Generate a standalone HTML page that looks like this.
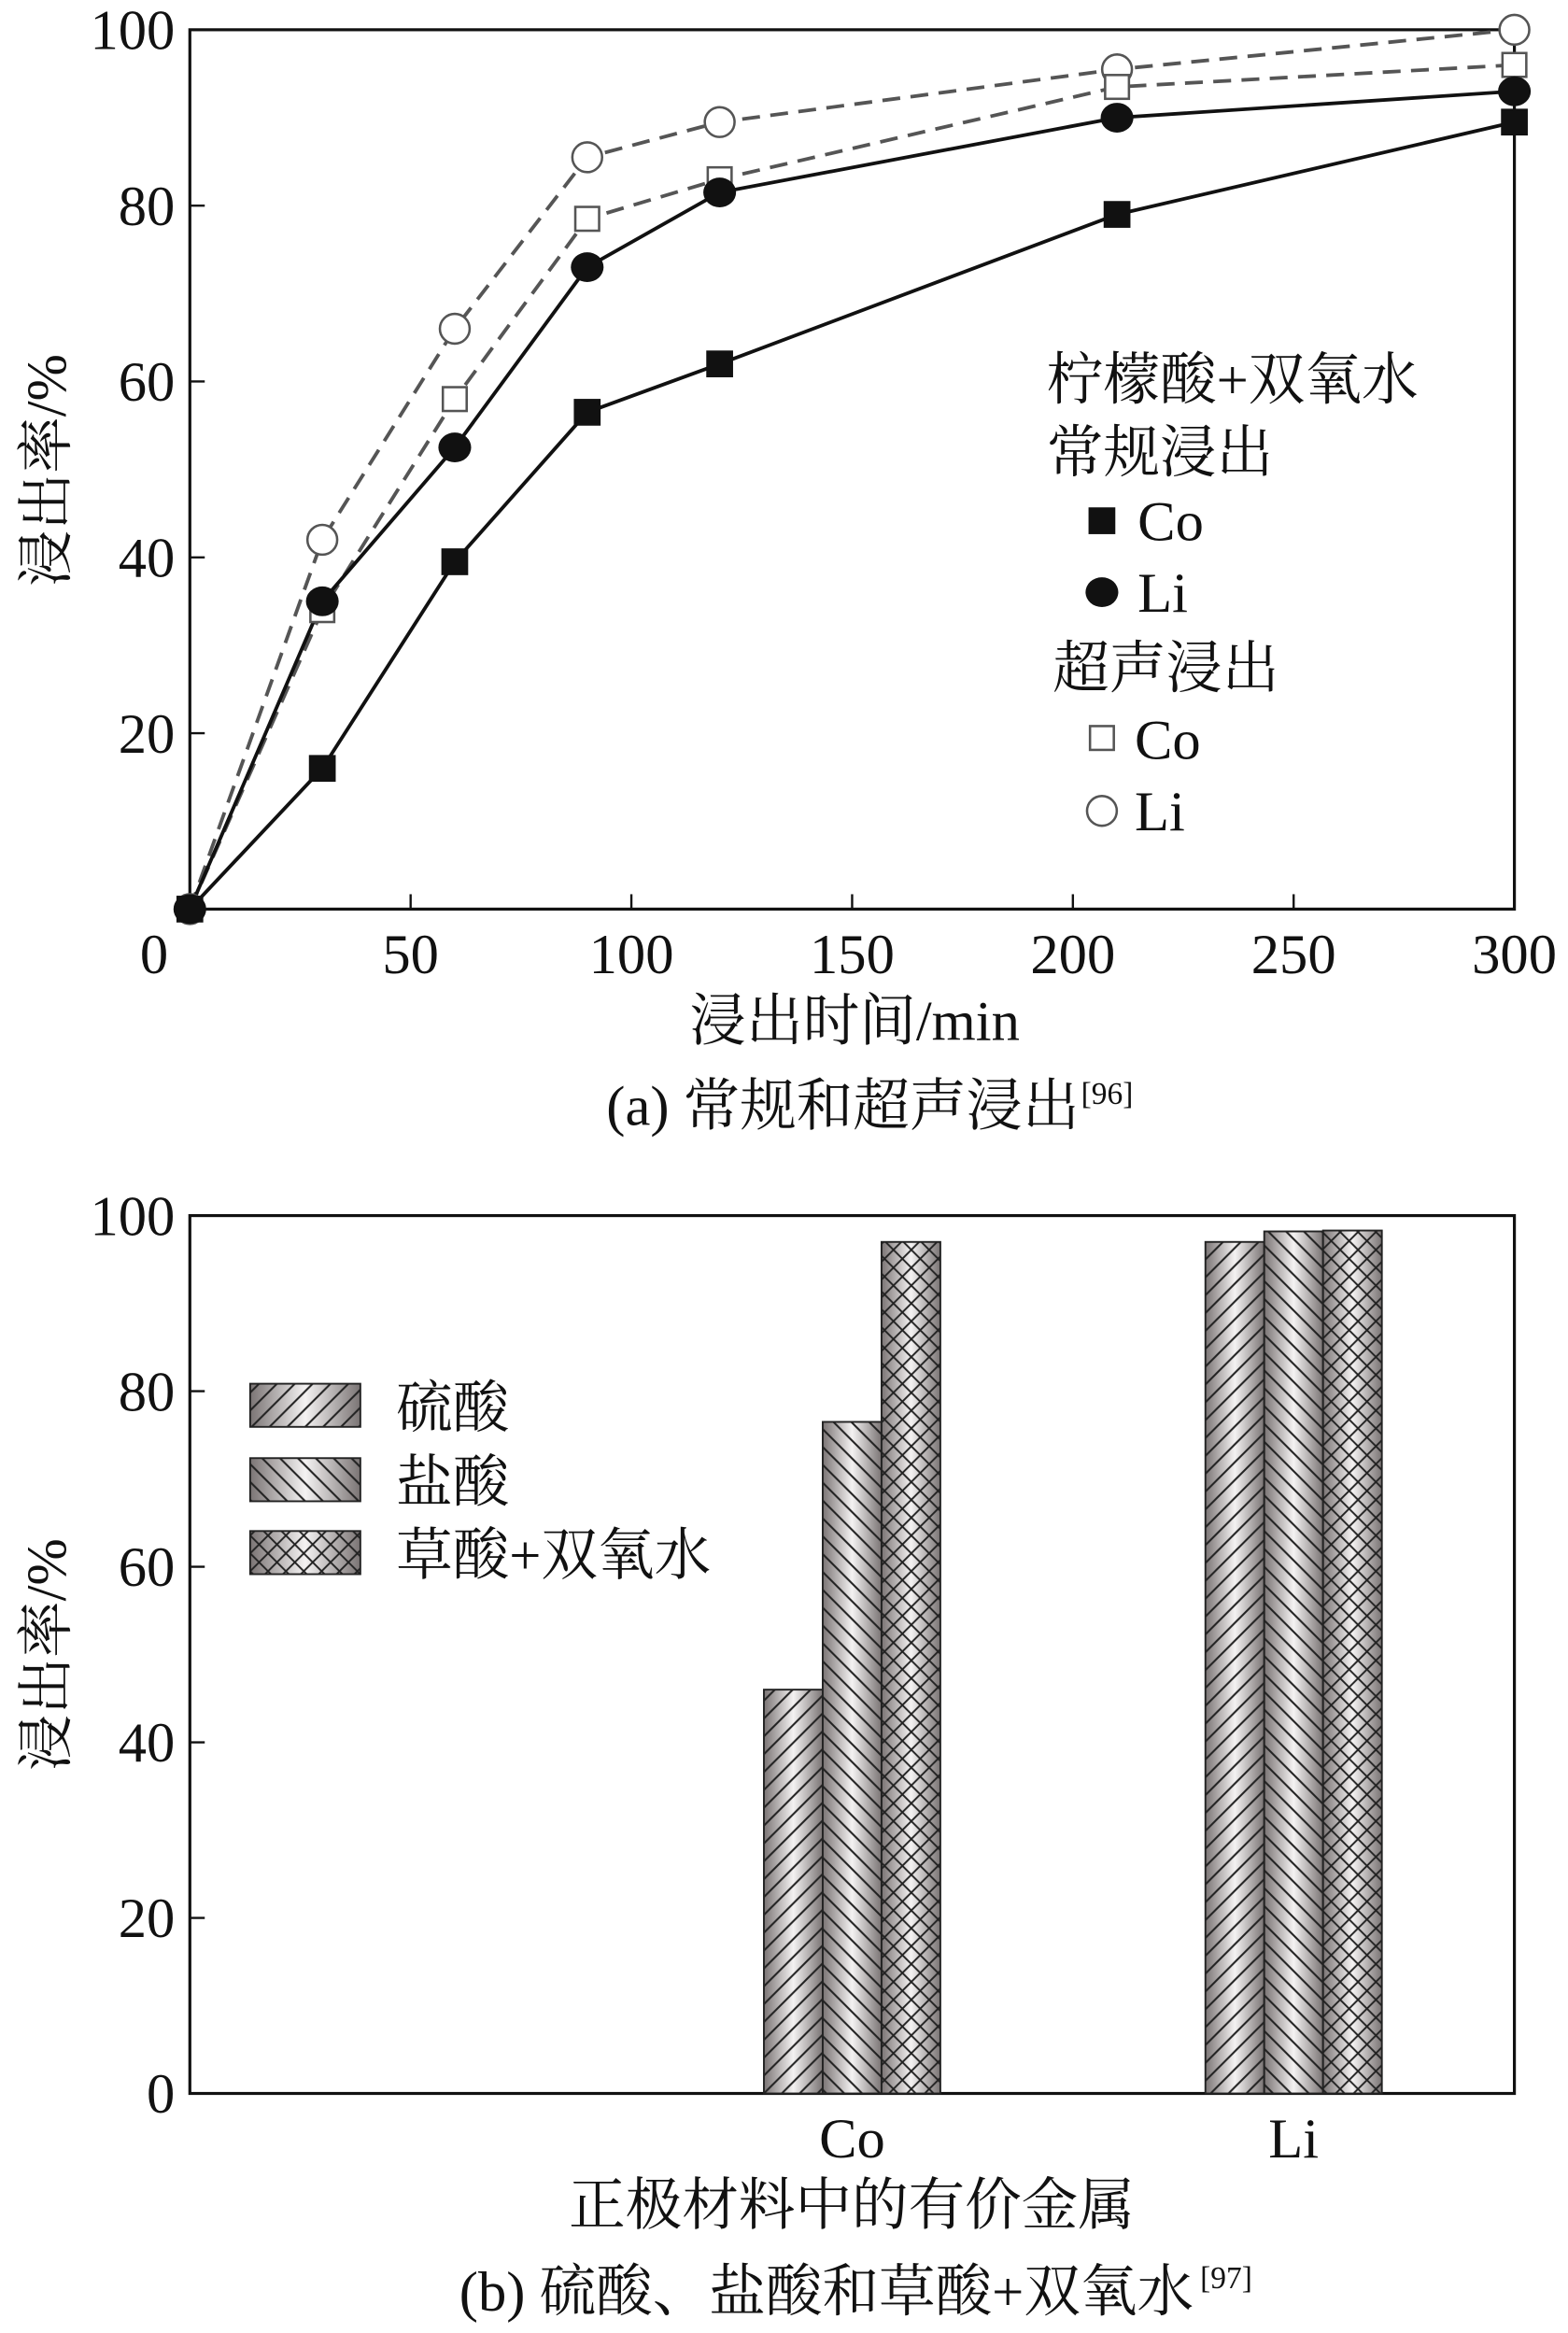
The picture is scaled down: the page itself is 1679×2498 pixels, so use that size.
<!DOCTYPE html>
<html><head><meta charset="utf-8"><style>
html,body{margin:0;padding:0;background:#fff}
svg{display:block}
text{font-family:"Liberation Serif","Noto Serif CJK SC","Noto Sans CJK SC",serif;fill:#111}
</style></head><body>
<svg id="fig" width="1679" height="2498" viewBox="0 0 1053 1568" preserveAspectRatio="none" xmlns="http://www.w3.org/2000/svg">
<defs>
<linearGradient id="cyl" x1="0" x2="1" y1="0" y2="0">
<stop offset="0" stop-color="#7a7474"/><stop offset="0.5" stop-color="#f4f2f2"/><stop offset="1" stop-color="#7a7474"/>
</linearGradient>
<pattern id="hF" width="12" height="12" patternUnits="userSpaceOnUse"><path d="M-3,15 L15,-3 M-3,3 L3,-3 M9,15 L15,9" stroke="#222" stroke-width="1.3"/></pattern>
<pattern id="hB" width="12" height="12" patternUnits="userSpaceOnUse"><path d="M-3,-3 L15,15 M-3,9 L3,15 M9,-3 L15,3" stroke="#222" stroke-width="1.3"/></pattern>
<pattern id="hX" width="12" height="12" patternUnits="userSpaceOnUse"><path d="M-3,15 L15,-3 M-3,3 L3,-3 M9,15 L15,9 M-3,-3 L15,15 M-3,9 L3,15 M9,-3 L15,3" stroke="#222" stroke-width="1.2"/></pattern>
</defs>
<g id="chartA"></g>
<g id="chartB"></g>
</svg>
<script>
// ---- Chart (a) data ----
const times = [0, 30, 60, 90, 120, 210, 300];
const coConv = [0, 16, 39.5, 56.5, 62, 79, 89.5];
const liConv = [0, 35, 52.5, 73, 81.5, 90, 93];
const coUltra = [0, 34, 58, 78.5, 83, 93.5, 96];
const liUltra = [0, 42, 66, 85.5, 89.5, 95.5, 100];
const xTicksA = [0, 50, 100, 150, 200, 250, 300];
const yTicksA = [20, 40, 60, 80, 100];
// ---- Chart (b) data ----
const metals = ['Co', 'Li'];
const sulfuric = [46, 97];
const hydrochloric = [76.5, 98.2];
const oxalic = [97, 98.3];
const yTicksB = [0, 20, 40, 60, 80, 100];

const NS = 'http://www.w3.org/2000/svg';
const FS = 38;
function mk(parent, tag, attrs, txt) {
  const e = document.createElementNS(NS, tag);
  for (const k in attrs) e.setAttribute(k, attrs[k]);
  if (txt !== undefined) e.textContent = txt;
  parent.appendChild(e);
  return e;
}
// ===== Chart A =====
const A = document.getElementById('chartA');
const aL = 127.5, aR = 1017, aT = 20, aB = 611;
const ax = t => aL + (t / 300) * (aR - aL);
const ay = v => aB - (v / 100) * (aB - aT);
let f = mk(A, 'rect', {x: aL, y: aT, width: aR - aL, height: aB - aT, fill: 'none', stroke: '#111', 'stroke-width': 2});


xTicksA.forEach(t => {
  if (t > 0 && t < 300) mk(A, 'line', {x1: ax(t), x2: ax(t), y1: aB, y2: aB - 10, stroke: '#111', 'stroke-width': 1.5});
  const tx = mk(A, 'text', {x: t === 0 ? ax(t) - 24 : ax(t), y: aB + 43, 'font-size': FS, 'text-anchor': 'middle'}, String(t));
  
  
});
yTicksA.forEach(v => {
  if (v < 100) mk(A, 'line', {x1: aL, x2: aL + 10, y1: ay(v), y2: ay(v), stroke: '#111', 'stroke-width': 1.5});
  const tx = mk(A, 'text', {x: aL - 10, y: ay(v) + 13, 'font-size': FS, 'text-anchor': 'end'}, String(v));
  
  
});
let t1 = mk(A, 'text', {x: 574, y: 699, 'font-size': FS, 'text-anchor': 'middle'}, '浸出时间/min');


let t2 = mk(A, 'text', {x: 0, y: 0, 'font-size': FS, 'text-anchor': 'middle', transform: 'translate(44,316) rotate(-90)'}, '浸出率/%');


let c1 = mk(A, 'text', {x: 566, y: 756, 'font-size': FS, 'text-anchor': 'middle'}, '(a) 常规和超声浸出');


mk(A, 'text', {x: 726, y: 742, 'font-size': 21}, '[96]');

function series(vals, dashed, name) {
  const pts = times.map((t, i) => ax(t) + ',' + ay(vals[i])).join(' ');
  const p = mk(A, 'polyline', {points: pts, fill: 'none', stroke: dashed ? '#555' : '#111', 'stroke-width': 2.4, 'stroke-dasharray': dashed ? '12,7' : 'none'});
  
  
}
function marks(vals, kind, name) {
  times.forEach((t, i) => {
    const x = ax(t), y = ay(vals[i]);
    let m;
    if (kind === 'fs') m = mk(A, 'rect', {x: x - 9, y: y - 9, width: 18, height: 18, fill: '#111'});
    if (kind === 'fc') m = mk(A, 'ellipse', {cx: x, cy: y, rx: 11, ry: 10, fill: '#111'});
    if (kind === 'os') m = mk(A, 'rect', {x: x - 8, y: y - 8, width: 16, height: 16, fill: '#fff', stroke: '#555', 'stroke-width': 1.6});
    if (kind === 'oc') m = mk(A, 'circle', {cx: x, cy: y, r: 10, fill: '#fff', stroke: '#555', 'stroke-width': 1.6});
    
    
  });
}
series(liUltra, true, 'li-ultrasonic');
series(coUltra, true, 'co-ultrasonic');
series(liConv, false, 'li-conventional');
series(coConv, false, 'co-conventional');
marks(liUltra, 'oc', 'li-ultrasonic');
marks(coUltra, 'os', 'co-ultrasonic');
marks(liConv, 'fc', 'li-conventional');
marks(coConv, 'fs', 'co-conventional');
// legend A
const lg = mk(A, 'g', {});


mk(lg, 'text', {x: 703, y: 268, 'font-size': FS}, '柠檬酸+双氧水');
mk(lg, 'text', {x: 703, y: 317, 'font-size': FS}, '常规浸出');
mk(lg, 'rect', {x: 731, y: 341, width: 18, height: 18, fill: '#111'});
mk(lg, 'text', {x: 764, y: 363, 'font-size': FS}, 'Co');
mk(lg, 'ellipse', {cx: 740, cy: 398, rx: 11, ry: 10, fill: '#111'});
mk(lg, 'text', {x: 764, y: 411, 'font-size': FS}, 'Li');
mk(lg, 'text', {x: 707, y: 462, 'font-size': FS}, '超声浸出');
mk(lg, 'rect', {x: 732, y: 488, width: 16, height: 16, fill: '#fff', stroke: '#555', 'stroke-width': 1.6});
mk(lg, 'text', {x: 762, y: 510, 'font-size': FS}, 'Co');
mk(lg, 'circle', {cx: 740, cy: 545, r: 10, fill: '#fff', stroke: '#555', 'stroke-width': 1.6});
mk(lg, 'text', {x: 762, y: 558, 'font-size': FS}, 'Li');

// ===== Chart B =====
const B = document.getElementById('chartB');
const bL = 127.5, bR = 1017, bT = 817, bB = 1407;
const by = v => bB - (v / 100) * (bB - bT);
const slot = (bR - bL) / 3;
const bw = 39.5;
let fb = mk(B, 'rect', {x: bL, y: bT, width: bR - bL, height: bB - bT, fill: 'none', stroke: '#111', 'stroke-width': 2});


yTicksB.forEach(v => {
  if (v > 0 && v < 100) mk(B, 'line', {x1: bL, x2: bL + 10, y1: by(v), y2: by(v), stroke: '#111', 'stroke-width': 1.5});
  const tx = mk(B, 'text', {x: bL - 10, y: by(v) + 13, 'font-size': FS, 'text-anchor': 'end'}, String(v));
  
  
});
const groups = [sulfuric, hydrochloric, oxalic];
const pats = ['hF', 'hB', 'hX'];
const gnames = ['sulfuric', 'hydrochloric', 'oxalic'];
metals.forEach((m, i) => {
  const cx = bL + (i + 1.5) * slot;
  groups.forEach((arr, j) => {
    const x = cx - 1.5 * bw + j * bw, y = by(arr[i]);
    const g = mk(B, 'g', {});
    
    
    mk(g, 'rect', {x: x, y: y, width: bw, height: bB - y, fill: 'url(#cyl)'});
    mk(g, 'rect', {x: x, y: y, width: bw, height: bB - y, fill: 'url(#' + pats[j] + ')', stroke: '#222', 'stroke-width': 1.2});
  });
  const tx = mk(B, 'text', {x: cx, y: bB + 43, 'font-size': FS, 'text-anchor': 'middle'}, m);
  
  
});
let t3 = mk(B, 'text', {x: 572, y: 1495, 'font-size': FS, 'text-anchor': 'middle'}, '正极材料中的有价金属');


let t4 = mk(B, 'text', {x: 0, y: 0, 'font-size': FS, 'text-anchor': 'middle', transform: 'translate(44,1112) rotate(-90)'}, '浸出率/%');


let c2 = mk(B, 'text', {x: 555, y: 1553, 'font-size': FS, 'text-anchor': 'middle'}, '(b) 硫酸、盐酸和草酸+双氧水');


mk(B, 'text', {x: 806, y: 1538, 'font-size': 21}, '[97]');
const legB = ['硫酸', '盐酸', '草酸+双氧水'];
const legY = [930, 980, 1029];
legB.forEach((s, j) => {
  const g = mk(B, 'g', {});
  
  
  mk(g, 'rect', {x: 168, y: legY[j], width: 74, height: 29, fill: 'url(#cyl)'});
  mk(g, 'rect', {x: 168, y: legY[j], width: 74, height: 29, fill: 'url(#' + pats[j] + ')', stroke: '#222', 'stroke-width': 1.2});
  mk(g, 'text', {x: 266, y: legY[j] + 29, 'font-size': FS}, s);
});
</script>
</body></html>
